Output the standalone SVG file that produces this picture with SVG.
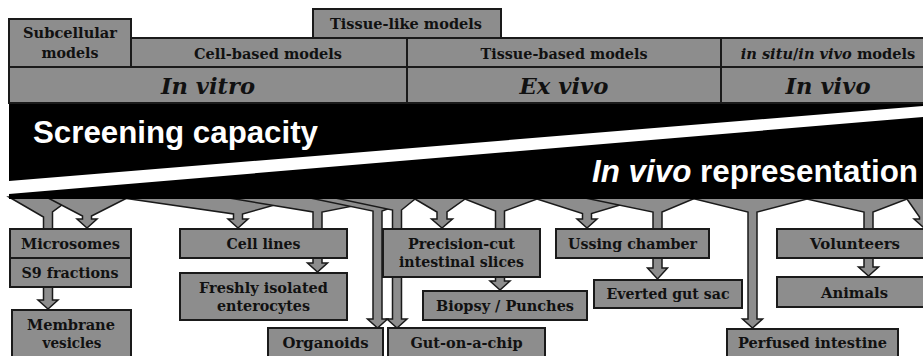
<svg xmlns="http://www.w3.org/2000/svg" width="923" height="356" viewBox="0 0 923 356">
<style>
.box{fill:#8d8d8d;stroke:#1a1a1a;stroke-width:2}
.arr{fill:#8d8d8d;stroke:#1a1a1a;stroke-width:1.5;stroke-linejoin:miter}
.lbl{font-family:"DejaVu Serif","Liberation Serif",serif;font-weight:bold;font-size:15px;fill:#111;text-anchor:middle}
.hdr{font-size:15.5px}
.big{font-size:22px;font-style:italic}
.band{font-family:"Liberation Sans",Arial,sans-serif;font-weight:bold;font-size:31px;fill:#fff}
</style>
<rect width="923" height="356" fill="#fff"/>
<g id="connectors">
<polygon class="arr" points="9,197 43.5,217 43.5,300 38,300 48,309 58,300 52.5,300 52.5,212 72.7,197"/>
<polygon class="arr" points="44.3,196 82.5,216 82.5,219 77,219 87,228 97,219 91.5,219 91.5,216 130.9,196"/>
<polygon class="arr" points="109.3,196 233.5,214 233.5,219 228,219 238,228 248,219 242.5,219 242.5,214 306.7,196"/>
<polygon class="arr" points="217,196 313,212 313,263 307.5,263 317.5,272 327.5,263 322,263 322,212 403.5,196"/>
<polygon class="arr" points="300.5,196 373,211 373,319 367.5,319 377.5,328 387.5,319 382,319 382,211 423.3,196"/>
<polygon class="arr" points="325.7,196 392.5,210 392.5,319 387,319 397,328 407,319 401.5,319 401.5,210 418.7,196"/>
<polygon class="arr" points="409.9,196 437,212 437,219 431.5,219 442,228 452.5,219 447,219 447,212 469.2,196"/>
<polygon class="arr" points="457.4,196 495.5,211 495.5,281 490,281 500,290 510,281 504.5,281 504.5,211 545.1,196"/>
<polygon class="arr" points="527.6,196 582.5,213.5 582.5,219 577,219 587,228 597,219 591.5,219 591.5,213.5 650,196"/>
<polygon class="arr" points="575.5,196 653,212 653,268 647.5,268 657.5,279 667.5,268 662,268 662,212 700.2,196"/>
<polygon class="arr" points="682.8,196 748,212 748,319 742.5,319 752.5,328 762.5,319 757,319 757,212 818.5,196"/>
<polygon class="arr" points="793.8,196 864,212 864,267 858.5,267 868.5,276 878.5,267 873,267 873,212 914.8,196"/>
<polygon class="arr" points="904.9,196 919.5,217 919.5,219 914,219 924,228 934,219 928.5,219 928.5,196"/>
</g>
<g id="band">
<rect x="9" y="103" width="920" height="96" fill="#000"/>
<polygon points="9,181 923,106 923,117 9,194" fill="#fff"/>
<text class="band" x="33" y="143" textLength="285" lengthAdjust="spacingAndGlyphs">Screening capacity</text>
<text class="band" x="918" y="182" text-anchor="end" textLength="326" lengthAdjust="spacingAndGlyphs"><tspan font-style="italic">In vivo</tspan> representation</text>
</g>
<g id="header">
<g id="subcellular"><rect class="box" x="9" y="19" width="122" height="48"/>
<text class="lbl hdr" x="70" y="37.5" textLength="94" lengthAdjust="spacingAndGlyphs">Subcellular</text>
<text class="lbl hdr" x="70" y="58" textLength="57" lengthAdjust="spacingAndGlyphs">models</text></g>
<g id="tissue-like"><rect class="box" x="313" y="9" width="188" height="29"/>
<text class="lbl hdr" x="406" y="29" textLength="152" lengthAdjust="spacingAndGlyphs">Tissue-like models</text></g>
<g id="cell-based"><rect class="box" x="131" y="38" width="276" height="29"/>
<text class="lbl hdr" x="268" y="59" textLength="148" lengthAdjust="spacingAndGlyphs">Cell-based models</text></g>
<g id="tissue-based"><rect class="box" x="407" y="38" width="314" height="29"/>
<text class="lbl hdr" x="564" y="59" textLength="167" lengthAdjust="spacingAndGlyphs">Tissue-based models</text></g>
<g id="insitu"><rect class="box" x="721" y="38" width="214" height="29"/>
<text class="lbl" x="828" y="59" style="font-size:14.6px"><tspan font-style="italic">in situ</tspan>/<tspan font-style="italic">in vivo</tspan> models</text></g>
<g id="invitro"><rect class="box" x="9" y="67" width="398" height="36"/>
<text class="lbl big" x="208" y="94" textLength="94" lengthAdjust="spacingAndGlyphs">In vitro</text></g>
<g id="exvivo"><rect class="box" x="407" y="67" width="314" height="36"/>
<text class="lbl big" x="564" y="94" textLength="89" lengthAdjust="spacingAndGlyphs">Ex vivo</text></g>
<g id="invivo"><rect class="box" x="721" y="67" width="214" height="36"/>
<text class="lbl big" x="828" y="94" textLength="85" lengthAdjust="spacingAndGlyphs">In vivo</text></g>
</g>
<g id="microsomes"><rect class="box" x="10" y="229" width="121" height="29"/>
<text class="lbl" x="70.5" y="249" textLength="99" lengthAdjust="spacingAndGlyphs">Microsomes</text></g>
<g id="s9"><rect class="box" x="10" y="258" width="121" height="29"/>
<text class="lbl" x="70" y="278" textLength="97" lengthAdjust="spacingAndGlyphs">S9 fractions</text></g>
<g id="membrane"><rect class="box" x="12" y="310" width="119" height="52"/>
<text class="lbl" x="71" y="330" textLength="88" lengthAdjust="spacingAndGlyphs">Membrane</text>
<text class="lbl" x="72" y="348" textLength="59" lengthAdjust="spacingAndGlyphs">vesicles</text></g>
<g id="celllines"><rect class="box" x="180" y="229" width="167" height="29"/>
<text class="lbl" x="263.5" y="249" textLength="74" lengthAdjust="spacingAndGlyphs">Cell lines</text></g>
<g id="freshly"><rect class="box" x="180" y="273" width="167" height="47"/>
<text class="lbl" x="263.5" y="292.5" textLength="129" lengthAdjust="spacingAndGlyphs">Freshly isolated</text>
<text class="lbl" x="263.5" y="311" textLength="93" lengthAdjust="spacingAndGlyphs">enterocytes</text></g>
<g id="organoids"><rect class="box" x="268" y="328" width="115" height="34"/>
<text class="lbl" x="325.5" y="348" textLength="86" lengthAdjust="spacingAndGlyphs">Organoids</text></g>
<g id="gutchip"><rect class="box" x="388" y="328" width="157" height="34"/>
<text class="lbl" x="466.5" y="348" textLength="112" lengthAdjust="spacingAndGlyphs">Gut-on-a-chip</text></g>
<g id="precision"><rect class="box" x="383" y="229" width="157" height="48"/>
<text class="lbl" x="461.5" y="248.5" textLength="107" lengthAdjust="spacingAndGlyphs">Precision-cut</text>
<text class="lbl" x="461.5" y="267" textLength="125" lengthAdjust="spacingAndGlyphs">intestinal slices</text></g>
<g id="biopsy"><rect class="box" x="423" y="291" width="164" height="29"/>
<text class="lbl" x="505" y="311" textLength="138" lengthAdjust="spacingAndGlyphs">Biopsy / Punches</text></g>
<g id="ussing"><rect class="box" x="556" y="229" width="153" height="29"/>
<text class="lbl" x="632.5" y="249" textLength="129" lengthAdjust="spacingAndGlyphs">Ussing chamber</text></g>
<g id="everted"><rect class="box" x="594" y="280" width="148" height="28"/>
<text class="lbl" x="668" y="299" textLength="123" lengthAdjust="spacingAndGlyphs">Everted gut sac</text></g>
<g id="perfused"><rect class="box" x="727" y="329" width="171" height="33"/>
<text class="lbl" x="812.5" y="348" textLength="149" lengthAdjust="spacingAndGlyphs">Perfused intestine</text></g>
<g id="volunteers"><rect class="box" x="777" y="229" width="156" height="29"/>
<text class="lbl" x="855" y="249" textLength="90" lengthAdjust="spacingAndGlyphs">Volunteers</text></g>
<g id="animals"><rect class="box" x="777" y="277" width="156" height="30"/>
<text class="lbl" x="854.5" y="298" textLength="67" lengthAdjust="spacingAndGlyphs">Animals</text></g>
</svg>
